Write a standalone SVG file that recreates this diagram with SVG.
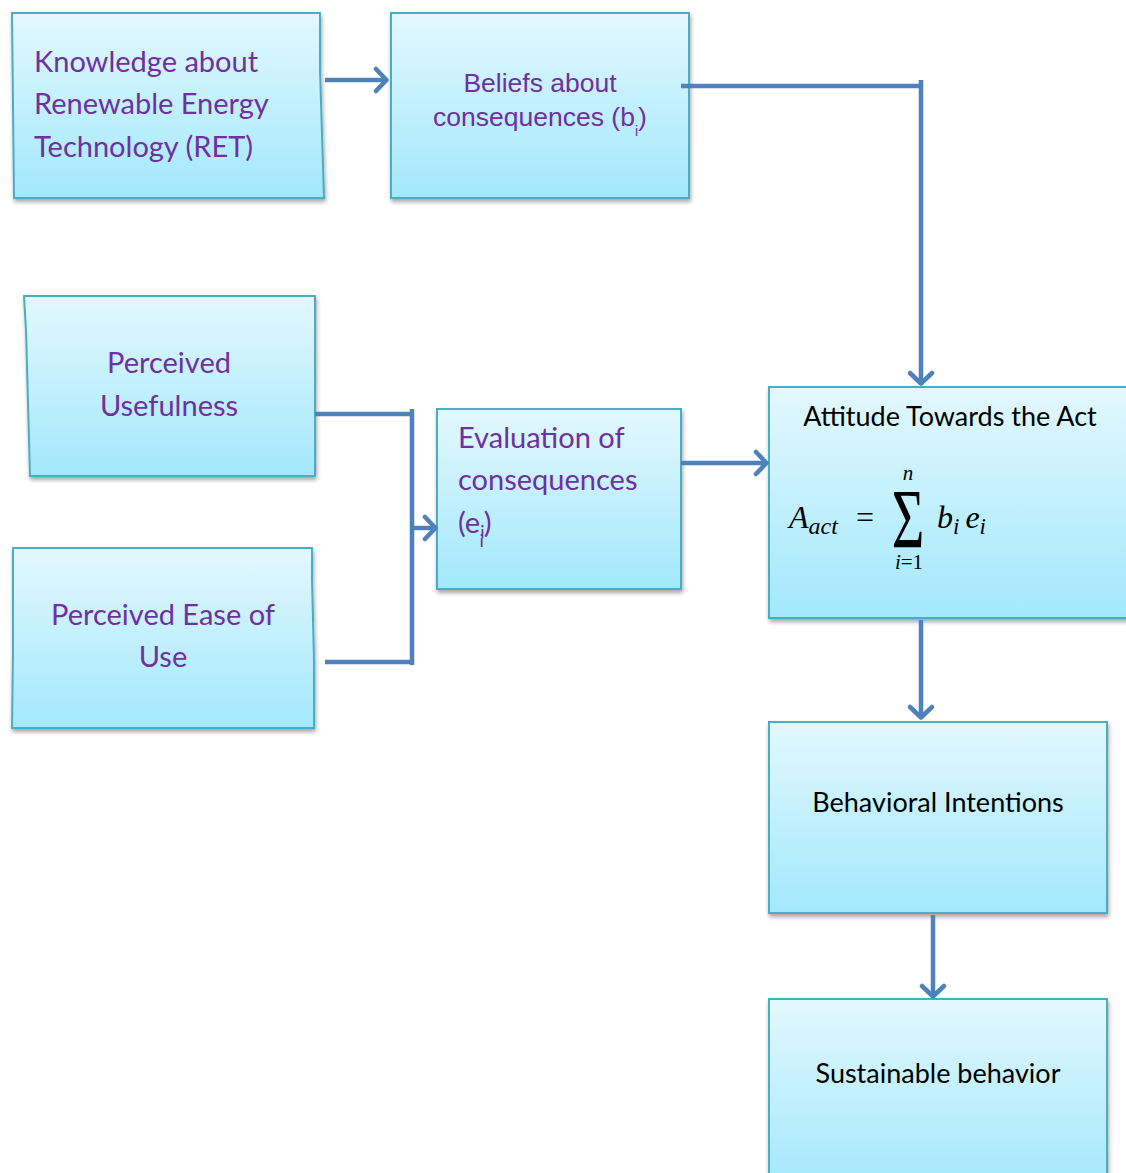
<svg xmlns="http://www.w3.org/2000/svg" width="1126" height="1173" viewBox="0 0 1126 1173">
<defs>
<linearGradient id="g" x1="0" y1="0" x2="0" y2="1">
<stop offset="0" stop-color="#E3F8FE"/>
<stop offset="1" stop-color="#A2E8FC"/>
</linearGradient>
<filter id="sh" x="-10%" y="-10%" width="125%" height="125%">
<feGaussianBlur in="SourceAlpha" stdDeviation="2"/>
<feOffset dx="1" dy="3"/>
<feComponentTransfer><feFuncA type="linear" slope="0.35"/></feComponentTransfer>
<feMerge><feMergeNode/><feMergeNode in="SourceGraphic"/></feMerge>
</filter>
<marker id="ah" viewBox="0 0 16 28" refX="14" refY="14" markerWidth="16" markerHeight="28" markerUnits="userSpaceOnUse" orient="auto">
<path d="M3,3 L13.5,14 L3,25" fill="none" stroke="#4F81BD" stroke-width="4.5" stroke-linecap="round" stroke-linejoin="round"/>
</marker>
</defs>
<style>
.box{fill:url(#g);stroke:#4BACC6;stroke-width:2;filter:url(#sh)}
.p{font-family:Lato,"Liberation Sans",sans-serif;fill:#7030A0;font-size:29px}
.a{font-family:"Liberation Sans",Arial,sans-serif;fill:#7030A0;font-size:26.5px}
.k{font-family:Lato,"Liberation Sans",sans-serif;fill:#000;font-size:27px}
.m{font-family:"Liberation Serif",serif;fill:#000;font-style:italic}
.s{font-family:"Liberation Serif",serif;fill:#000}
.c{fill:none;stroke:#4F81BD;stroke-width:4.5}
</style>
<g id="n-knowledge">
<path class="box" d="M12,13 L320,13 L320,70 L324,198 L14,198 Z"/>
<text class="p" x="34" y="72">Knowledge about</text>
<text class="p" x="34" y="114">Renewable Energy</text>
<text class="p" x="34" y="157">Technology (RET)</text>
</g>
<g id="n-beliefs">
<rect class="box" x="391" y="13" width="298" height="185"/>
<text class="a" x="540" y="92" text-anchor="middle">Beliefs about</text>
<text class="a" x="540" y="126" text-anchor="middle">consequences (b<tspan font-size="14" dy="10">i</tspan><tspan dy="-10">)</tspan></text>
</g>
<g id="n-usefulness">
<path class="box" d="M24,296 L315,296 L315,476 L30,476 L26,330 Z"/>
<text class="p" x="169" y="373" text-anchor="middle">Perceived</text>
<text class="p" x="169" y="416" text-anchor="middle">Usefulness</text>
</g>
<g id="n-ease">
<path class="box" d="M13,548 L312,548 L312,580 L314,660 L314,728 L12,728 L13,650 Z"/>
<text class="p" x="163" y="625" text-anchor="middle">Perceived Ease of</text>
<text class="p" x="163" y="667" text-anchor="middle">Use</text>
</g>
<g id="n-evaluation">
<rect class="box" x="437" y="409" width="244" height="180"/>
<text class="p" x="458" y="448">Evaluation of</text>
<text class="p" x="458" y="490">consequences</text>
<text class="p" x="458" y="533">(e<tspan font-size="18" dy="5">i</tspan><tspan font-size="18" dy="9" dx="-5">i</tspan><tspan dy="-14">)</tspan></text>
</g>
<g id="n-attitude">
<rect class="box" x="769" y="387" width="360" height="231"/>
<text class="k" x="950" y="426" text-anchor="middle">Attitude Towards the Act</text>
<text class="m" x="789" y="528" font-size="32">A<tspan font-size="24" dy="6">act</tspan></text>
<text class="s" x="856" y="528" font-size="32">=</text>
<text class="s" x="908" y="548" font-size="56" text-anchor="middle" transform="translate(0,548) scale(1,1.5) translate(0,-548)">Σ</text>
<text class="m" x="908" y="480" font-size="21" text-anchor="middle">n</text>
<text class="s" x="909" y="569" font-size="21" text-anchor="middle"><tspan font-style="italic">i</tspan>=1</text>
<text class="m" x="937" y="528" font-size="32">b<tspan font-size="23" dy="6">i</tspan><tspan dy="-6" dx="6">e</tspan><tspan font-size="23" dy="6">i</tspan></text>
</g>
<g id="n-intentions">
<rect class="box" x="769" y="722" width="338" height="191"/>
<text class="k" x="938" y="812" text-anchor="middle">Behavioral Intentions</text>
</g>
<g id="n-sustainable">
<rect class="box" x="769" y="999" width="338" height="190"/>
<text class="k" x="938" y="1083" text-anchor="middle">Sustainable behavior</text>
</g>
<g id="connectors">
<path class="c" d="M325,80 L387,80" marker-end="url(#ah)"/>
<path class="c" d="M681,86 L921,86"/>
<path class="c" d="M921,80 L921,384" marker-end="url(#ah)"/>
<path class="c" d="M315,414 L412,414"/>
<path class="c" d="M325,662 L412,662"/>
<path class="c" d="M412,409 L412,665"/>
<path class="c" d="M412,528 L436,528" marker-end="url(#ah)"/>
<path class="c" d="M681,463 L767,463" marker-end="url(#ah)"/>
<path class="c" d="M921,620 L921,718" marker-end="url(#ah)"/>
<path class="c" d="M933,915 L933,997" marker-end="url(#ah)"/>
</g>
</svg>
